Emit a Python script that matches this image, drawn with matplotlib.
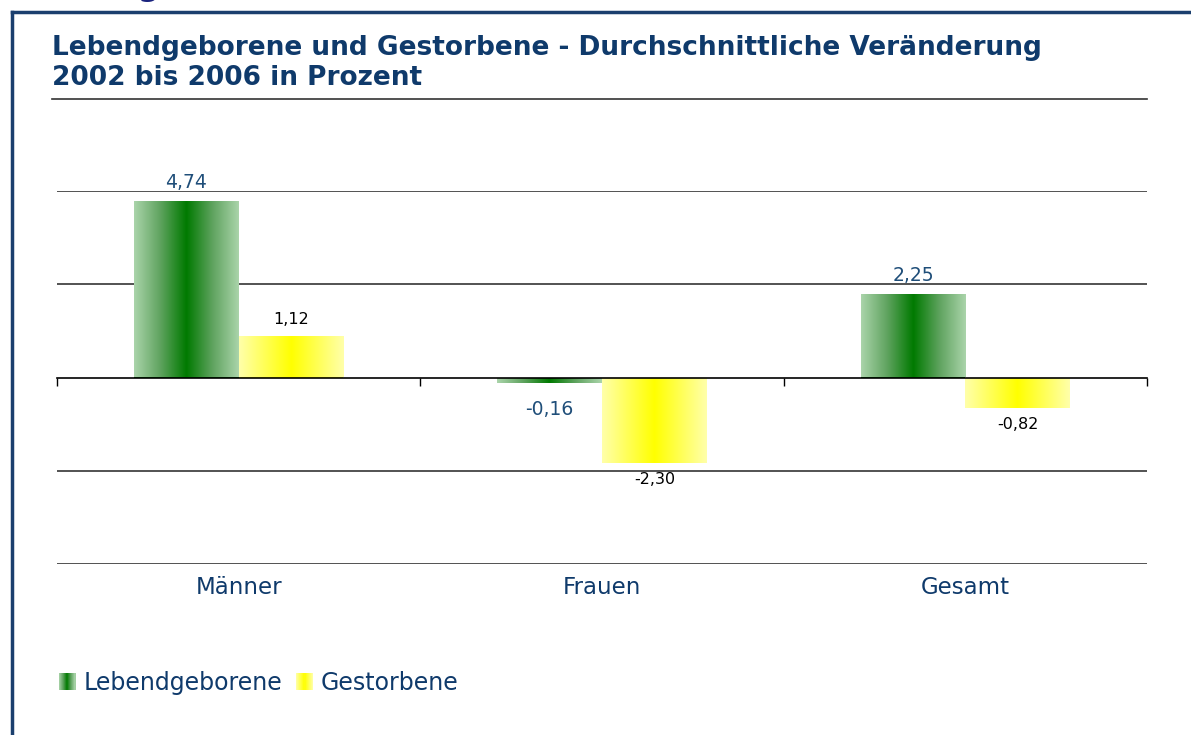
import numpy as np
import matplotlib
matplotlib.use("Agg")
import matplotlib.pyplot as plt
from matplotlib.colors import LinearSegmentedColormap
from matplotlib.legend_handler import HandlerBase
from matplotlib.patches import Rectangle
from matplotlib.lines import Line2D

# data
categories = ["Männer", "Frauen", "Gesamt"]
lebendgeborene = [4.74, -0.16, 2.25]
gestorbene = [1.12, -2.30, -0.82]
series_names = ["Lebendgeborene", "Gestorbene"]
title = "Lebendgeborene und Gestorbene - Durchschnittliche Veränderung\n2002 bis 2006 in Prozent"

navy = "#0F3A6B"
label_blue = "#1F4E79"

green_cmap = LinearSegmentedColormap.from_list("g", ["#AAD4AA", "#5FA35F", "#007A00", "#5FA35F", "#AAD4AA"])
yellow_cmap = LinearSegmentedColormap.from_list("y", ["#FFFFAA", "#FFFF55", "#FFFF00", "#FFFF55", "#FFFFAA"])


class GradHandler(HandlerBase):
    def __init__(self, cmap):
        super().__init__()
        self.cmap = cmap

    def create_artists(self, legend, orig_handle, xdescent, ydescent, width, height, fontsize, trans):
        n = 16
        arts = []
        for k in range(n):
            r = Rectangle((-xdescent + width * k / n, -ydescent), width / n + 0.3, height,
                          facecolor=self.cmap((k + 0.5) / n), lw=0, transform=trans)
            arts.append(r)
        return arts


fig = plt.figure(figsize=(11.91, 7.35), dpi=100)
ax = fig.add_axes([57 / 1191, 1 - 564 / 735, 1090 / 1191, 373 / 735])

x = np.arange(len(categories))
w = 0.288
grad = np.linspace(0, 1, 256).reshape(1, -1)

bars_g = ax.bar(x - w / 2, lebendgeborene, w, color="#007A00", lw=0, zorder=2)
bars_y = ax.bar(x + w / 2, gestorbene, w, color="#FFFF00", lw=0, zorder=2)
for bars, cmap in [(bars_g, green_cmap), (bars_y, yellow_cmap)]:
    for b in bars:
        x0, y0 = b.get_x(), b.get_y()
        h = b.get_height()
        im = ax.imshow(grad, cmap=cmap, aspect="auto", zorder=3,
                       extent=[x0, x0 + b.get_width(), min(y0, y0 + h), max(y0, y0 + h)])
        im.set_clip_path(b)

# value labels
for b, v in zip(bars_g, lebendgeborene):
    off = 6 if v >= 0 else -19
    ax.annotate(f"{v:.2f}".replace(".", ","), (b.get_x() + b.get_width() / 2, v),
                xytext=(0, off), textcoords="offset points", ha="center",
                va="bottom" if v >= 0 else "center", fontsize=13.5, color=label_blue)
for b, v in zip(bars_y, gestorbene):
    off = 6 if v >= 0 else -12
    ax.annotate(f"{v:.2f}".replace(".", ","), (b.get_x() + b.get_width() / 2, v),
                xytext=(0, off), textcoords="offset points", ha="center",
                va="bottom" if v >= 0 else "center", fontsize=11.5, color="black")

ax.set_xlim(-0.5, 2.5)
ax.set_ylim(-5, 5)
ax.set_yticks([-5, -2.5, 2.5, 5])
ax.yaxis.grid(True, color="#444444", lw=1.3)
ax.set_axisbelow(True)
ax.tick_params(axis="y", length=0, labelleft=False)
for s in ["left", "right", "top"]:
    ax.spines[s].set_visible(False)
ax.spines["bottom"].set_position(("data", 0))
ax.spines["bottom"].set_color("black")
ax.spines["bottom"].set_linewidth(1.2)
ax.spines["bottom"].set_zorder(4)
ax.set_xticks([-0.5, 0.5, 1.5, 2.5])
ax.tick_params(axis="x", direction="out", length=6, width=1, labelbottom=False)

for i, c in enumerate(categories):
    ax.text(i, -0.063, c, transform=ax.get_xaxis_transform(), ha="center", va="center",
            fontsize=16.5, color=navy)

# title and frame
fig.text(52 / 1191, 1 - 63 / 735, title, fontsize=19, fontweight="bold", color=navy,
         ha="left", va="center", linespacing=1.2)
fig.add_artist(Line2D([52 / 1191, 1147 / 1191], [1 - 99 / 735] * 2, color="#333333", lw=1.2))
fig.add_artist(Line2D([11.5 / 1191, 1], [1 - 11.5 / 735] * 2, color="#1B3F6E", lw=2.5))
fig.add_artist(Line2D([11.5 / 1191] * 2, [0, 1 - 11.5 / 735], color="#1B3F6E", lw=2.5))
fig.text(138 / 1191, 1 + 4 / 735, "g", fontsize=22, fontweight="bold", color="#1A237E",
         ha="left", va="baseline")

handles = [Rectangle((0, 0), 1, 1), Rectangle((0, 0), 1, 1)]
fig.legend(handles, series_names, loc="center left", bbox_to_anchor=(59 / 1191, 1 - 683 / 735),
           ncol=2, frameon=False, fontsize=17, labelcolor=navy, handlelength=0.7,
           handleheight=0.7, handletextpad=0.33, columnspacing=0.6, borderpad=0,
           borderaxespad=0,
           handler_map={handles[0]: GradHandler(green_cmap), handles[1]: GradHandler(yellow_cmap)})

fig.savefig("out.png", dpi=100)
